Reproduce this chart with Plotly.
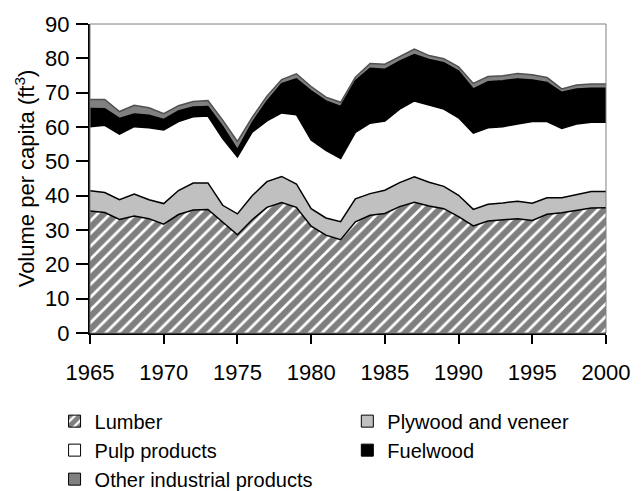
import plotly.graph_objects as go

# Per-capita wood consumption by product, 1965-2000 (ft^3 per person)
years = list(range(1965, 2001))

lumber = [35.5, 35.1, 33.1, 34.1, 33.3, 31.7, 34.5, 35.8, 36.0, 32.4,
          28.6, 33.0, 36.6, 38.0, 36.6, 31.1, 28.5, 27.2, 32.4, 34.3,
          34.8, 36.8, 38.1, 37.0, 36.2, 33.9, 31.2, 32.6, 32.9, 33.3,
          32.8, 34.6, 35.0, 35.7, 36.4, 36.5]

plywood = [5.9, 5.8, 5.7, 6.4, 5.5, 6.0, 7.0, 7.9, 7.7, 4.8,
           6.1, 7.0, 7.5, 7.6, 6.8, 5.1, 5.0, 5.2, 6.7, 6.3,
           6.8, 7.0, 7.4, 6.9, 6.5, 6.2, 4.8, 4.9, 5.0, 5.1,
           5.0, 4.8, 4.4, 4.6, 4.8, 4.7]

pulp = [18.7, 19.6, 19.1, 19.6, 21.0, 21.4, 20.1, 19.3, 19.5, 19.4,
        16.6, 18.5, 17.7, 18.5, 20.2, 20.0, 19.7, 18.4, 19.3, 20.5,
        20.1, 21.4, 22.1, 22.4, 22.5, 22.6, 22.2, 22.3, 22.2, 22.5,
        23.8, 22.2, 20.2, 20.6, 20.2, 20.2]

fuelwood = [5.3, 4.8, 4.6, 3.7, 3.6, 3.1, 3.1, 2.8, 2.8, 3.6,
            2.1, 2.8, 5.7, 8.5, 10.4, 14.3, 14.4, 15.2, 15.1, 16.0,
            15.1, 14.0, 13.5, 13.4, 13.5, 13.6, 12.9, 13.4, 13.4, 13.1,
            12.1, 11.4, 10.5, 10.2, 9.9, 9.9]

other = [2.6, 2.7, 2.0, 2.5, 2.2, 1.7, 1.5, 1.6, 1.7, 1.8,
         2.4, 1.5, 1.5, 1.2, 1.5, 1.3, 1.1, 1.2, 1.0, 1.4,
         1.5, 1.3, 1.6, 1.1, 1.2, 1.2, 1.6, 1.5, 1.4, 1.6,
         1.5, 1.4, 1.0, 1.1, 1.2, 1.2]

series_names = ["Lumber", "Plywood and veneer", "Pulp products",
                "Fuelwood", "Other industrial products"]
# legend column for each series (two-column key under the chart)
legend_column = ["legend", "legend2", "legend", "legend2", "legend"]

FONT = "Liberation Sans, Arial, sans-serif"
HATCH = dict(shape="/", fgcolor="black", bgcolor="white", size=9, solidity=0.7)

fig = go.Figure()

# Stacked areas
area_styles = [
    (lumber,   dict(fillcolor="white", fillpattern=HATCH), "black"),
    (plywood,  dict(fillcolor="#c0c0c0"), "black"),
    (pulp,     dict(fillcolor="white"), "black"),
    (fuelwood, dict(fillcolor="black"), "black"),
    (other,    dict(fillcolor="#808080"), "#505050"),
]
for name, (vals, fill_kw, lc) in zip(series_names, area_styles):
    fig.add_trace(go.Scatter(
        x=years, y=vals, name=name, mode="lines", stackgroup="one",
        line=dict(color=lc, width=1.5), showlegend=False,
        hoverinfo="x+y+name", **fill_kw))

# Square legend keys
legend_markers = [
    dict(color="white", pattern=HATCH),
    dict(color="#c0c0c0"),
    dict(color="white"),
    dict(color="black"),
    dict(color="#808080"),
]
for name, mk, lg in zip(series_names, legend_markers, legend_column):
    mk = dict(mk)
    mk["line"] = dict(color="black", width=1)
    fig.add_trace(go.Bar(x=[None], y=[None], name=name, marker=mk,
                         showlegend=True, legend=lg))

# Each key column is a horizontal legend whose wide entries wrap one per row
legend_common = dict(
    orientation="h", traceorder="normal",
    xref="container", yref="container", xanchor="left",
    y=0.182, yanchor="top",
    entrywidth=240, entrywidthmode="pixels",
    font=dict(family=FONT, size=20, color="black"),
    tracegroupgap=0, itemclick=False, bgcolor="rgba(0,0,0,0)",
)

fig.update_layout(
    width=642, height=491,
    margin=dict(l=90, r=35, t=19, b=158),
    paper_bgcolor="white", plot_bgcolor="white",
    font=dict(family=FONT, size=22, color="black"),
    showlegend=True,
    legend=dict(x=0.085, **legend_common),
    legend2=dict(x=0.541, **legend_common),
    xaxis=dict(
        range=[1965, 2000], tickmode="array",
        tickvals=[1965, 1970, 1975, 1980, 1985, 1990, 1995, 2000],
        ticks="outside", ticklen=9, tickwidth=1.5, tickcolor="black",
        showline=True, linecolor="black", linewidth=2,
        showgrid=False, zeroline=False, ticklabelstandoff=10,
        tickfont=dict(size=22),
    ),
    yaxis=dict(
        range=[0, 90], tickmode="linear", tick0=0, dtick=10,
        ticks="outside", ticklen=12, tickwidth=1.5, tickcolor="black",
        showline=True, linecolor="black", linewidth=2,
        showgrid=False, zeroline=False, ticklabelstandoff=2,
        tickfont=dict(size=22),
        title=dict(text="Volume per capita (ft<sup>3</sup>)",
                   font=dict(size=22), standoff=4),
    ),
)

# Plot-area frame on top and right
fig.add_shape(type="rect", xref="paper", yref="paper", x0=0, y0=0, x1=1, y1=1,
              line=dict(color="#7f7f7f", width=1), layer="above")

fig.write_html("out.html")
